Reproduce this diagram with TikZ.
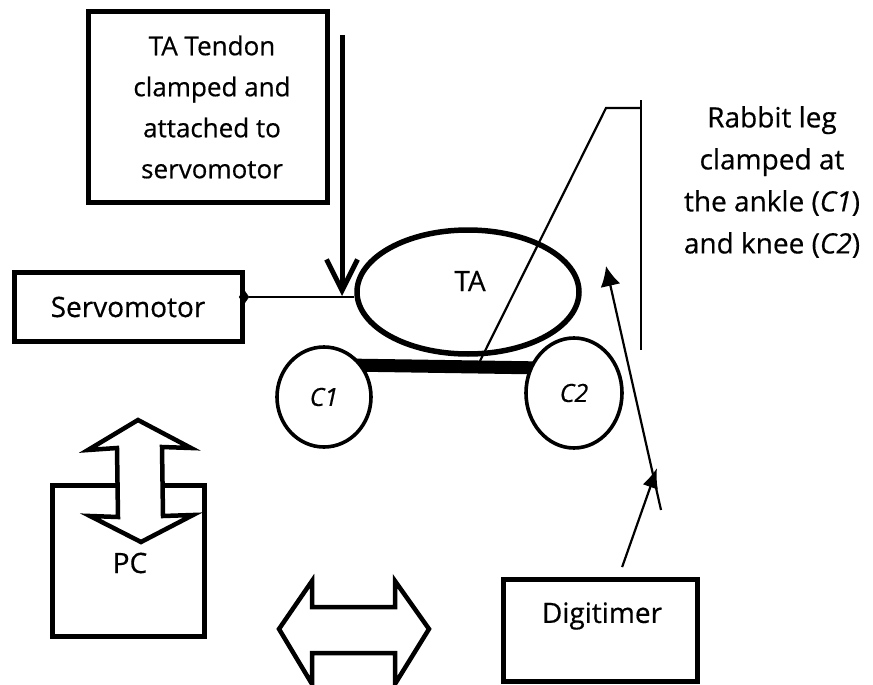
\documentclass[tikz,border=0pt]{standalone}
\usepackage{fontspec}
\setmainfont[FakeBold=0.5]{Open Sans}
\usetikzlibrary{arrows.meta, positioning, calc, shapes.geometric}

\begin{document}
\begin{tikzpicture}[x=1pt, y=-1pt, >=latex,
        every node/.style={font=\fontsize{28}{42}\selectfont, inner sep=0pt, align=center},
        heavybox/.style={draw, line width=5pt},
        midbox/.style={draw, line width=5pt},
        joint/.style={draw, fill=white, ellipse, line width=3.6pt},
        block/.style={draw, fill=white, line width=4.5pt, miter limit=20},
        thinline/.style={line width=2.2pt}]
        \useasboundingbox (0,0) rectangle (873,685);

        % boxes and muscle
        \node (Clamp) [heavybox, minimum width=239pt, minimum height=190pt, font=\fontsize{26}{41}\selectfont] at (208,107) {\hspace{8pt}TA Tendon\\\hspace{8pt}clamped and\\\hspace{8pt}attached to\\\hspace{8pt}servomotor};
        \node (Servo) [midbox, minimum width=228pt, minimum height=69pt] at (128,307) {Servomotor};
        \node (TA) [draw, ellipse, line width=5.5pt, minimum width=222pt, minimum height=124pt] at (468,292) {};
        \node (TAname) at (470,281) {TA};
        \node (PC) [heavybox, minimum width=152pt, minimum height=151pt] at (128,561) {};
        \node (PCname) at (130,563) {PC};
        \node (Digi) [midbox, minimum width=194pt, minimum height=102pt] at (600,630) {};
        \node (Diginame) at (602,616) {Digitimer};
        \node (Leg) at (772,182) {Rabbit leg\\clamped at\\the ankle (\textit{C1})\\and knee (\textit{C2})};

        % bone and leg clamps
        \coordinate (BoneL) at (345,365);
        \coordinate (BoneR) at (545,368);
        \draw[line width=13pt] (BoneL) -- (BoneR);
        \node (C1) [joint, minimum width=94pt, minimum height=100pt] at (324,397) {\itshape\fontsize{25}{28}\selectfont C1};
        \node (C2) [joint, minimum width=96pt, minimum height=110pt] at (574,393) {\itshape\fontsize{25}{28}\selectfont C2};

        % lever and stand
        \coordinate (LeverA) at (480,361);
        \coordinate (LeverB) at (606,108);
        \coordinate (LeverC) at (641,108);
        \coordinate (StandT) at (641,100);
        \coordinate (StandB) at (641,350);
        \draw[thinline] (LeverA) -- (LeverB) -- (LeverC);
        \draw[thinline] (StandT) -- (StandB);

        % servomotor link
        \node (Pin) [draw, fill, diamond, minimum width=10pt, minimum height=14pt] at (244,297) {};
        \draw[thinline] (Pin) -- (Pin -| TA.west);

        % tendon arrow
        \coordinate (PullT) at (342,35);
        \coordinate (PullB) at (342,296);
        \draw[line width=5pt, -{Straight Barb[length=31pt, width=31pt, line width=5pt]}] (PullT) -- (PullB);

        % stimulus arrows
        \coordinate (ProbeB) at (661,510);
        \coordinate (ProbeT) at (606,266);
        \coordinate (Pulse) at (657,468);
        \draw[thinline, -{Latex[length=20pt, width=20pt]}] (ProbeB) -- (ProbeT);
        \draw[thinline, shorten <=10pt, -{Latex[length=20pt, width=16pt]}] (Digi) -- (Pulse);

        % double arrows
        \draw[block] (138,420) -- (191,448) -- (162,447) -- (163,516) -- (193,515) -- (141,542)
            -- (90,516) -- (118,517) -- (117,448) -- (88,450) -- cycle;
        \draw[block] (279,629) -- (312,581) -- (312,607) -- (395,607) -- (395,581) -- (429,629)
            -- (395,684) -- (395,653) -- (312,653) -- (312,684) -- cycle;
    \end{tikzpicture}
\end{document}
